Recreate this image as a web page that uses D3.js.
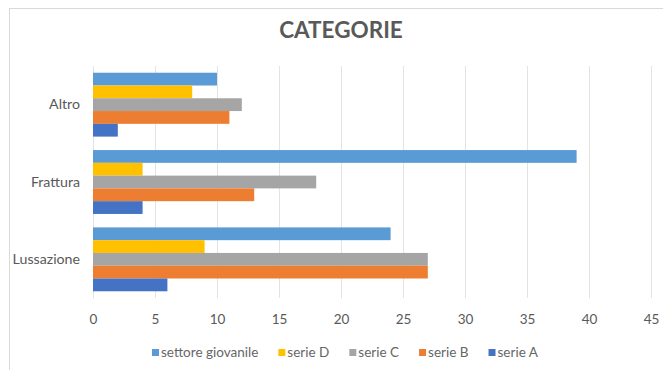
<!DOCTYPE html>
<html>
<head>
<meta charset="utf-8">
<script src="https://cdn.jsdelivr.net/npm/d3@7"></script>
<style>
	body { margin: 0; background: #fff; }
	svg { display: block; font-family: Lato, "Open Sans", sans-serif; }
</style>
</head>
<body>
<svg id="plot" width="663" height="370"></svg>
<script>

// categories top to bottom
const CATEGORIES = ['Altro', 'Frattura', 'Lussazione'];
// series in the order they appear inside a group (top to bottom) and in the legend
const SERIES = ['settore giovanile', 'serie D', 'serie C', 'serie B', 'serie A'];
const COLORS = ['#5b9bd5', '#ffc000', '#a5a5a5', '#ed7d31', '#4472c4'];

const SETTORE_GIOVANILE = [10, 39, 24];
const SERIE_D = [8, 4, 9];
const SERIE_C = [12, 18, 27];
const SERIE_B = [11, 13, 27];
const SERIE_A = [2, 4, 6];

const X_TICKS = [0, 5, 10, 15, 20, 25, 30, 35, 40, 45];

const VALUES = [SETTORE_GIOVANILE, SERIE_D, SERIE_C, SERIE_B, SERIE_A];

const data = [];
CATEGORIES.forEach((c, i) => {
	SERIES.forEach((s, j) => {
		data.push({cat: c, series: s, value: VALUES[j][i]});
	});
});

const svg = d3.select('#plot');
const box = {left: 93, right: 651, top: 66, bottom: 298};

// outer frame of the chart
svg.append('rect')
	.attr('x', 9.5).attr('y', 8.5)
	.attr('width', 680).attr('height', 380)
	.style('fill', 'none')
	.style('stroke', '#d9d9d9');

// title
svg.append('text')
	.attr('x', 341).attr('y', 38)
	.attr('text-anchor', 'middle')
	.style('font-size', '22.5px')
	.style('font-weight', 'bold')
	.style('fill', '#595959')
	.text('CATEGORIE');

const x = d3.scaleLinear()
	.domain([0, 45])
	.range([box.left, box.right]);

const y = d3.scaleBand()
	.domain(CATEGORIES)
	.range([box.top, box.bottom])
	.paddingInner(0.174)
	.paddingOuter(0.087);

const yInner = d3.scaleBand()
	.domain(SERIES)
	.range([0, y.bandwidth()]);

const color = d3.scaleOrdinal().domain(SERIES).range(COLORS);

// gridlines
svg.append('g').selectAll('line')
	.data(X_TICKS)
	.enter().append('line')
	.attr('x1', d => x(d) + 0.5).attr('x2', d => x(d) + 0.5)
	.attr('y1', box.top).attr('y2', box.bottom)
	.style('stroke', '#e3e3e3');

// bars
svg.append('g').selectAll('rect')
	.data(data)
	.enter().append('rect')
	.attr('x', x(0))
	.attr('y', d => y(d.cat) + yInner(d.series))
	.attr('width', d => x(d.value) - x(0))
	.attr('height', yInner.bandwidth())
	.style('fill', d => color(d.series));

// x axis labels
const xAxis = svg.append('g')
	.attr('transform', `translate(0,${box.bottom})`)
	.call(d3.axisBottom(x).tickValues(X_TICKS).tickSize(0).tickPadding(16));
xAxis.select('.domain').remove();
xAxis.selectAll('text')
	.style('font-size', '13.5px')
	.style('font-family', 'Lato, sans-serif')
	.style('fill', '#595959');

// y axis labels
const yAxis = svg.append('g')
	.attr('transform', `translate(${box.left},0)`)
	.call(d3.axisLeft(y).tickSize(0).tickPadding(13));
yAxis.select('.domain').remove();
yAxis.selectAll('text')
	.style('font-size', '14.2px')
	.style('font-family', 'Lato, sans-serif')
	.style('fill', '#595959');

// legend
const legend = svg.append('g');
let lx = 152;
SERIES.forEach((s, i) => {
	const item = legend.append('g').attr('transform', `translate(${lx},0)`);
	item.append('rect')
		.attr('x', 0).attr('y', 349)
		.attr('width', 7).attr('height', 7)
		.style('fill', COLORS[i]);
	const t = item.append('text')
		.attr('x', 9).attr('y', 357)
		.style('font-size', '13.5px')
		.style('fill', '#666')
		.text(s);
	lx += 9 + t.node().getComputedTextLength() + 20;
});

</script>
</body>
</html>
